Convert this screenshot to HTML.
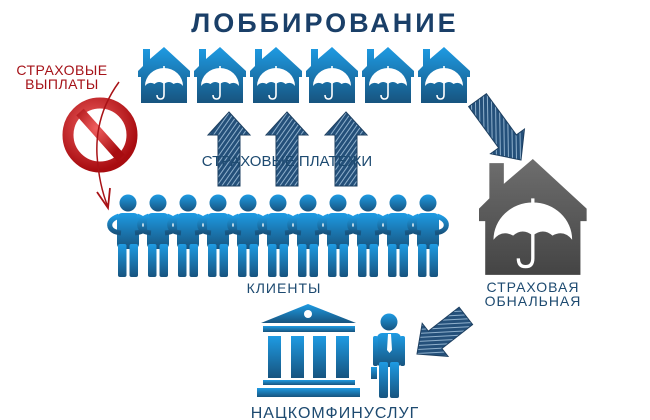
<!DOCTYPE html>
<html><head><meta charset="utf-8"><style>
html,body{margin:0;padding:0;background:#fff;}
svg{display:block;}
text{font-family:"Liberation Sans","DejaVu Sans",sans-serif;}
</style></head><body>
<svg width="650" height="420" viewBox="0 0 650 420" xmlns="http://www.w3.org/2000/svg">
<defs>
<linearGradient id="bl" x1="0" y1="0" x2="0" y2="1">
<stop offset="0" stop-color="#1e9be3"/><stop offset="1" stop-color="#17547f"/></linearGradient>
<linearGradient id="gr" x1="0" y1="0" x2="0" y2="1">
<stop offset="0" stop-color="#6e6e6e"/><stop offset="1" stop-color="#444"/></linearGradient>
<radialGradient id="rd" cx="0.4" cy="0.35" r="0.7">
<stop offset="0" stop-color="#f06060"/><stop offset="1" stop-color="#a80c10"/></radialGradient>
<pattern id="hatch" width="4" height="4" patternUnits="userSpaceOnUse" patternTransform="rotate(35)">
<rect width="4" height="4" fill="#24507a"/><rect width="1" height="4" fill="#8fb0cc"/></pattern>
<g id="house">
<path d="M26 0 L52 24 L52 30 L49 30 L49 56 L3 56 L3 30 L0 30 L0 24 L5 19 L5 2 L12 2 L12 12 Z"/>
<path d="M7 39 A19 18 0 0 1 45 39 Q41 34 35.5 37 Q31 33 26 37 Q21 33 16.5 37 Q11 34 7 39 Z" fill="#fff"/>
<path d="M26 19 L26 48 Q26 52 22.5 52 Q19 52 19 48" fill="none" stroke="#fff" stroke-width="1.6"/>
</g>
<g id="person">
<circle cx="0" cy="203" r="8.5"/>
<rect x="-11" y="213" width="22" height="36" rx="5"/>
<path d="M-9 216 Q-20 220 -18 227 Q-16 232 -7 233" fill="none" stroke="url(#bl)" stroke-width="5"/>
<path d="M9 216 Q20 220 18 227 Q16 232 7 233" fill="none" stroke="url(#bl)" stroke-width="5"/>
<rect x="-10" y="244" width="8.5" height="33" rx="2"/>
<rect x="1.5" y="244" width="8.5" height="33" rx="2"/>
</g>
<path id="uparr" d="M0 0 L21 23 L11 23 L11 74 L-11 74 L-11 23 L-21 23 Z"/>
</defs>

<text x="325" y="32" text-anchor="middle" font-size="27" font-weight="bold" fill="#1a3f68" letter-spacing="3">ЛОББИРОВАНИЕ</text>

<g fill="url(#bl)">
<use href="#house" x="138" y="47"/>
<use href="#house" x="194" y="47"/>
<use href="#house" x="250" y="47"/>
<use href="#house" x="306" y="47"/>
<use href="#house" x="362" y="47"/>
<use href="#house" x="418" y="47"/>
</g>

<g fill="url(#hatch)" stroke="#1d3f60" stroke-width="1">
<use href="#uparr" x="229" y="112"/>
<use href="#uparr" x="287" y="112"/>
<use href="#uparr" x="346" y="112"/>
</g>
<text x="287" y="166" text-anchor="middle" font-size="15" fill="#1d4a70">СТРАХОВЫЕ ПЛАТЕЖИ</text>

<text x="62" y="75" text-anchor="middle" font-size="14" fill="#a51218" letter-spacing="0.5">СТРАХОВЫЕ</text>
<text x="62" y="89" text-anchor="middle" font-size="14" fill="#a51218" letter-spacing="0.5">ВЫПЛАТЫ</text>
<circle cx="100" cy="135" r="32" fill="none" stroke="url(#rd)" stroke-width="11"/>
<line x1="80" y1="112" x2="121" y2="158" stroke="url(#rd)" stroke-width="10"/>
<path d="M119 82 Q95 115 97 155 Q99 185 108 207" fill="none" stroke="#a81216" stroke-width="1.5"/>
<path d="M97 192 L108 208 L110 188" fill="none" stroke="#a81216" stroke-width="1.8"/>

<g fill="url(#bl)">
<use href="#person" x="128"/><use href="#person" x="158"/><use href="#person" x="188"/>
<use href="#person" x="218"/><use href="#person" x="248"/><use href="#person" x="278"/>
<use href="#person" x="308"/><use href="#person" x="338"/><use href="#person" x="368"/>
<use href="#person" x="398"/><use href="#person" x="428"/>
</g>
<text x="284" y="293" text-anchor="middle" font-size="14" fill="#1d4a70" letter-spacing="1">КЛИЕНТЫ</text>

<use href="#house" fill="url(#gr)" transform="translate(479,159) scale(2.07)"/>
<text x="533" y="292" text-anchor="middle" font-size="14" fill="#1d4a70" letter-spacing="1">СТРАХОВАЯ</text>
<text x="533" y="306" text-anchor="middle" font-size="14" fill="#1d4a70" letter-spacing="1">ОБНАЛЬНАЯ</text>

<g fill="url(#hatch)" stroke="#1d3f60" stroke-width="1">
<path d="M0 0 L21 23 L11 23 L11 74 L-11 74 L-11 23 L-21 23 Z" transform="translate(521,160) rotate(144)"/>
<path d="M0 0 L21 23 L11 23 L11 62 L-11 62 L-11 23 L-21 23 Z" transform="translate(417,354) rotate(-128)"/>
</g>

<g fill="url(#bl)">
<path d="M308 304 L356 323 L261 323 Z"/>
<circle cx="308" cy="314" r="4" fill="#fff"/>
<rect x="263" y="326" width="92" height="6"/>
<rect x="268" y="336" width="13" height="42"/>
<rect x="291" y="336" width="13" height="42"/>
<rect x="313" y="336" width="13" height="42"/>
<rect x="336" y="336" width="13" height="42"/>
<rect x="263" y="380" width="92" height="5"/>
<rect x="257" y="388" width="103" height="9"/>
<circle cx="389" cy="322" r="8.5"/>
<rect x="377" y="333" width="24" height="34" rx="5"/>
<rect x="373" y="336" width="5" height="30" rx="2"/>
<rect x="400" y="336" width="5" height="30" rx="2"/>
<rect x="379" y="362" width="9" height="36" rx="2"/>
<rect x="390" y="362" width="9" height="36" rx="2"/>
<rect x="371" y="367" width="6" height="12"/>
</g>
<path d="M388 334 L391 334 L392 350 L389.5 353 L387 350 Z" fill="#fff"/>
<text x="335" y="418" text-anchor="middle" font-size="16" fill="#1d4a70" letter-spacing="1">НАЦКОМФИНУСЛУГ</text>
</svg>
</body></html>
